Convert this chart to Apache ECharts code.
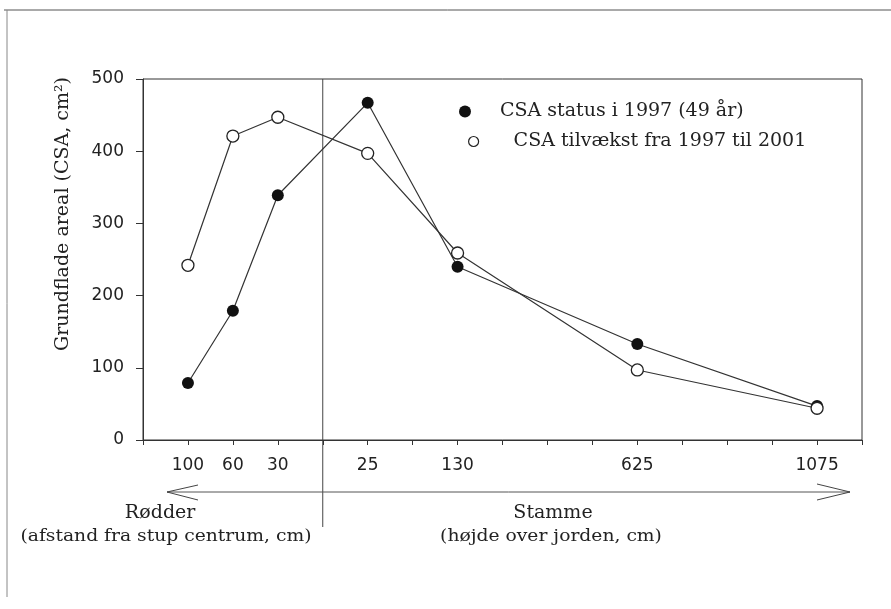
<!DOCTYPE html>
<html>
<head>
<meta charset="utf-8">
<script src="https://cdn.jsdelivr.net/npm/echarts@6/dist/echarts.min.js"></script>
<style>html,body{margin:0;padding:0;background:#fff}#c{width:891px;height:609px}</style>
</head>
<body>
<div id="c"></div>
<script>
// Position of each measuring point along the (unevenly spaced) x axis
const xPos = [1, 2, 3, 5, 7, 11, 15];
// Tick labels (distance in cm)
const xLabels = ['100', '60', '30', '25', '130', '625', '1075'];
// CSA status i 1997 (49 år)
const csaStatus = [79, 179, 339, 467, 240, 133, 47];
// CSA tilvækst fra 1997 til 2001
const csaGrowth = [242, 421, 447, 397, 259, 97, 44];
const yTicks = [0, 100, 200, 300, 400, 500];
const dividerPos = 4;

const nameA = 'CSA status i 1997 (49 år)';
const nameB = 'CSA tilvækst fra 1997 til 2001';
const serif = 'DejaVu Serif';
const sans = 'DejaVu Sans';

const chart = echarts.init(document.getElementById('c'), null, {renderer: 'canvas'});
const option = {
  animation: false,
  backgroundColor: '#fff',
  grid: {left: 143, top: 79, right: 29, bottom: 169, show: true, borderColor: '#333', borderWidth: 1, backgroundColor: 'transparent'},
  legend: [
    {data: [{name: nameA, icon: 'circle', itemStyle: {color: '#111'}}], left: 454, top: 97, itemWidth: 12, itemHeight: 12,
     textStyle: {fontFamily: serif, fontSize: 19, color: '#222', padding: [0, 0, 0, 24]}, selectedMode: false},
    {data: [{name: nameB, icon: 'circle', itemStyle: {color: '#fff', borderColor: '#222', borderWidth: 1.2}}], left: 463, top: 127, itemWidth: 10, itemHeight: 10,
     textStyle: {fontFamily: serif, fontSize: 19, color: '#222', padding: [0, 0, 0, 30]}, selectedMode: false}
  ],
  xAxis: {
    type: 'value', min: 0, max: 16, interval: 1,
    axisLine: {show: true, lineStyle: {color: '#333', width: 1}},
    axisTick: {show: true, length: 5, lineStyle: {color: '#333'}},
    splitLine: {show: false},
    axisLabel: {
      margin: 17, fontFamily: sans, fontSize: 17, color: '#222',
      formatter: function (v) { const i = xPos.indexOf(v); return i >= 0 ? xLabels[i] : ''; }
    }
  },
  yAxis: {
    type: 'value', min: yTicks[0], max: yTicks[yTicks.length - 1], interval: 100,
    axisLine: {show: true, lineStyle: {color: '#333', width: 1}},
    axisTick: {show: true, length: 7, lineStyle: {color: '#333'}},
    splitLine: {show: false},
    axisLabel: {margin: 19, fontFamily: sans, fontSize: 17, color: '#222'}
  },
  series: [
    {
      name: nameA, type: 'line', symbol: 'circle', symbolSize: 12,
      data: xPos.map((x, i) => [x, csaStatus[i]]),
      itemStyle: {color: '#111'},
      lineStyle: {color: '#333', width: 1.2}, z: 3
    },
    {
      name: nameB, type: 'line', symbol: 'circle', symbolSize: 12,
      data: xPos.map((x, i) => [x, csaGrowth[i]]),
      itemStyle: {color: '#fff', borderColor: '#222', borderWidth: 1.3},
      lineStyle: {color: '#333', width: 1.2}, z: 4
    }
  ]
};
chart.setOption(option);

const dx = chart.convertToPixel({xAxisIndex: 0}, dividerPos);
const yTop = chart.convertToPixel({yAxisIndex: 0}, 500);
chart.setOption({
  graphic: [
    {type: 'line', shape: {x1: 4, y1: 10, x2: 891, y2: 10}, style: {stroke: '#555', lineWidth: 1}},
    {type: 'line', shape: {x1: 7, y1: 10, x2: 7, y2: 597}, style: {stroke: '#888', lineWidth: 1}},
    {type: 'line', shape: {x1: dx, y1: yTop, x2: dx, y2: 527}, style: {stroke: '#444', lineWidth: 1}},
    {type: 'line', shape: {x1: 167, y1: 492, x2: 850, y2: 492}, style: {stroke: '#555', lineWidth: 1}},
    {type: 'polyline', shape: {points: [[198, 485], [167, 492], [198, 500]]}, style: {stroke: '#444', lineWidth: 1, fill: null}},
    {type: 'polyline', shape: {points: [[817, 484], [850, 492], [817, 500]]}, style: {stroke: '#444', lineWidth: 1, fill: null}},
    {type: 'text', x: 160, y: 513, style: {text: 'Rødder', font: '19px "DejaVu Serif"', fill: '#222', textAlign: 'center', textVerticalAlign: 'middle'}},
    {type: 'text', x: 166, y: 537, scaleX: 1.17, style: {text: '(afstand fra stup centrum, cm)', font: '16px "DejaVu Serif"', fill: '#222', textAlign: 'center', textVerticalAlign: 'middle'}},
    {type: 'text', x: 553, y: 513, style: {text: 'Stamme', font: '19px "DejaVu Serif"', fill: '#222', textAlign: 'center', textVerticalAlign: 'middle'}},
    {type: 'text', x: 551, y: 537, scaleX: 1.17, style: {text: '(højde over jorden, cm)', font: '16px "DejaVu Serif"', fill: '#222', textAlign: 'center', textVerticalAlign: 'middle'}},
    {type: 'text', x: 63, y: 214, rotation: Math.PI / 2, style: {text: 'Grundflade areal (CSA, cm²)', font: '19px "DejaVu Serif"', fill: '#222', textAlign: 'center', textVerticalAlign: 'middle'}}
  ]
});
</script>
</body>
</html>
